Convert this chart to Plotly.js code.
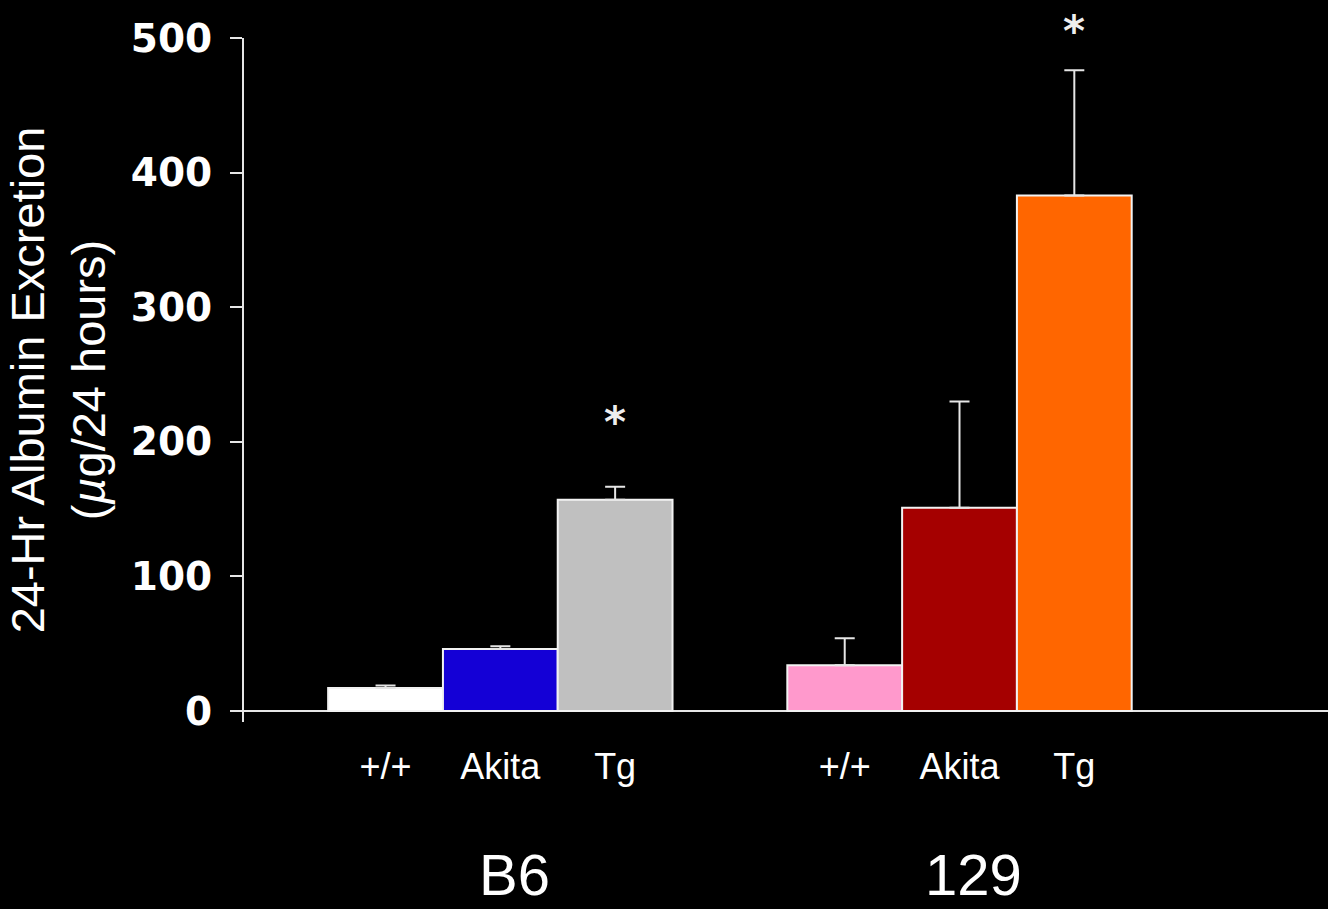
<!DOCTYPE html>
<html>
<head>
<meta charset="utf-8">
<script src="https://cdn.plot.ly/plotly-3.0.1.min.js"></script>
<style>html,body{margin:0;padding:0;background:#000;}#chart{width:1328px;height:909px;}</style>
</head>
<body>
<div id="chart"></div>
<script>
// ---- data ----
var groups = ["B6", "129"];
var genotypes = ["+/+", "Akita", "Tg"];
var valuesB6 = [17, 46, 157];
var errorsB6 = [2, 2, 9.5];
var values129 = [34, 151, 383];
var errors129 = [20, 79, 93];
var significant = [[false, false, true], [false, false, true]];
var barColors = [["#ffffff", "#1400d6", "#c0c0c0"], ["#ff99cc", "#a50000", "#ff6600"]];

var groupValues = [valuesB6, values129];
var groupErrors = [errorsB6, errors129];

var xs = [], ys = [], es = [], cols = [], labels = [];
groups.forEach(function (g, gi) {
  genotypes.forEach(function (gt, i) {
    xs.push(gi * 4 + i);
    ys.push(groupValues[gi][i]);
    es.push(groupErrors[gi][i]);
    cols.push(barColors[gi][i]);
    labels.push(gt);
  });
});

var trace = {
  type: "bar",
  x: xs,
  y: ys,
  width: 1,
  marker: { color: cols, line: { color: "#f2f2f2", width: 2 } },
  error_y: { type: "data", symmetric: false, array: es, arrayminus: es.map(function () { return 0; }),
             color: "#e6e6e6", thickness: 2, width: 10 },
  hoverinfo: "skip"
};

var annotations = [];
groups.forEach(function (g, gi) {
  annotations.push({
    x: gi * 4 + 1, xref: "x", y: 0, yref: "paper", yanchor: "top", yshift: -118, xshift: 14,
    text: g, showarrow: false,
    font: { family: "Liberation Sans, Arial, sans-serif", size: 58, color: "#ffffff" }
  });
  genotypes.forEach(function (gt, i) {
    if (significant[gi][i]) {
      var top = groupValues[gi][i] + groupErrors[gi][i];
      annotations.push({
        x: gi * 4 + i, xref: "x", y: top, yref: "y", yanchor: "bottom",
        yshift: gi === 0 ? 38 : 12,
        text: "*", showarrow: false,
        font: { family: "DejaVu Sans, sans-serif", size: 42, color: "#eeeeee", weight: "bold" }
      });
    }
  });
});

var layout = {
  width: 1328, height: 909,
  paper_bgcolor: "#000000", plot_bgcolor: "#000000",
  margin: { l: 244, r: 0, t: 38, b: 187 },
  showlegend: false,
  bargap: 0,
  xaxis: {
    range: [-1.233, 8.21],
    tickvals: xs, ticktext: labels,
    showline: false, showgrid: false, zeroline: false, ticks: "",
    tickfont: { family: "Liberation Sans, Arial, sans-serif", size: 36, color: "#ffffff" },
    ticklabelstandoff: 20
  },
  yaxis: {
    range: [-8.2, 500],
    tickvals: [0, 100, 200, 300, 400, 500],
    showgrid: false,
    showline: true, linecolor: "#e6e6e6", linewidth: 2,
    zeroline: true, zerolinecolor: "#e6e6e6", zerolinewidth: 2,
    ticks: "outside", ticklen: 12, tickwidth: 2, tickcolor: "#e6e6e6",
    ticklabelstandoff: 10,
    tickfont: { family: "DejaVu Sans, sans-serif", size: 39, color: "#ffffff", weight: "bold" },
    title: {
      text: "24-Hr Albumin Excretion<br>(<i>µ</i>g/24 hours)",
      font: { family: "Liberation Sans, Arial, sans-serif", size: 47, color: "#ffffff" },
      standoff: 10
    }
  },
  annotations: annotations
};

Plotly.newPlot("chart", [trace], layout, { displayModeBar: false, staticPlot: true });
</script>
</body>
</html>
